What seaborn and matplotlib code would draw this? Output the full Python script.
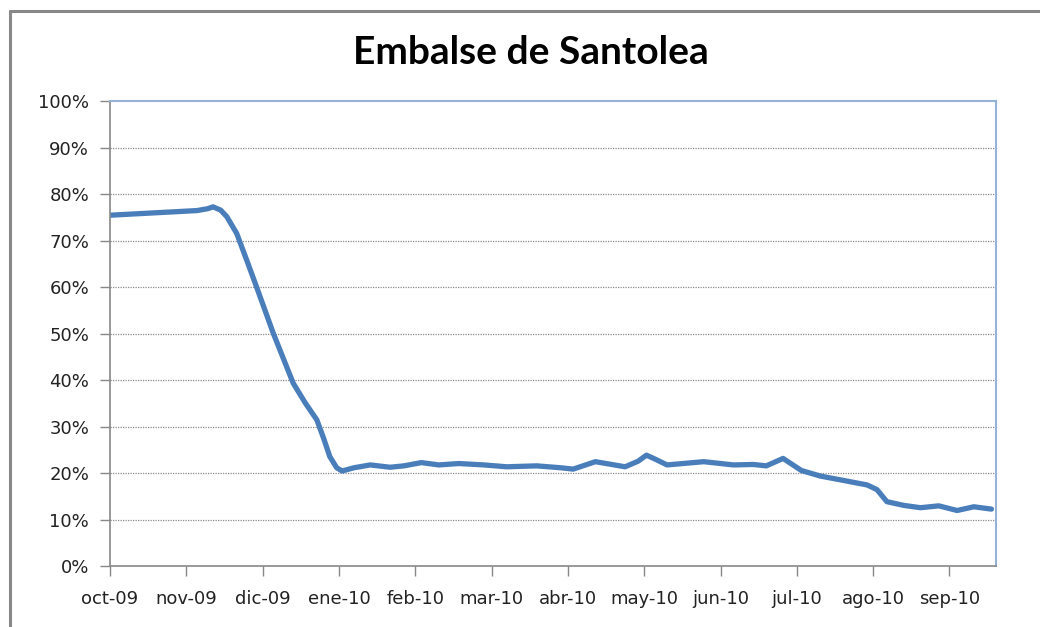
import numpy as np
import pandas as pd
import matplotlib
matplotlib.use("Agg")
import matplotlib.pyplot as plt
from matplotlib.lines import Line2D
import seaborn as sns

# Data: position in months since oct-09, reservoir fill (%)
month_pos = [0.00, 1.14, 1.28, 1.35, 1.45, 1.53, 1.66, 1.79, 1.92, 2.14, 2.40, 2.56,
             2.71, 2.80, 2.88, 2.97, 3.04, 3.20, 3.41, 3.67, 3.85, 4.08, 4.31, 4.57,
             4.90, 5.20, 5.59, 5.90, 6.07, 6.36, 6.75, 6.92, 7.03, 7.15, 7.30, 7.78,
             8.17, 8.43, 8.60, 8.82, 9.06, 9.31, 9.60, 9.92, 10.05, 10.18, 10.40,
             10.62, 10.86, 11.10, 11.32, 11.55]
fill_pct = [75.5, 76.5, 76.9, 77.3, 76.6, 75.2, 71.6, 65.9, 60.1, 50.1, 39.4, 35.1,
            31.5, 27.5, 23.6, 21.2, 20.5, 21.2, 21.8, 21.3, 21.6, 22.3, 21.8, 22.1,
            21.8, 21.4, 21.6, 21.2, 20.9, 22.5, 21.4, 22.6, 23.9, 23.0, 21.8, 22.5,
            21.8, 21.9, 21.6, 23.2, 20.6, 19.4, 18.5, 17.5, 16.5, 13.9, 13.1,
            12.6, 13.0, 12.0, 12.8, 12.3]
month_labels = ["oct-09", "nov-09", "dic-09", "ene-10", "feb-10", "mar-10",
                "abr-10", "may-10", "jun-10", "jul-10", "ago-10", "sep-10"]
y_ticks = [0, 10, 20, 30, 40, 50, 60, 70, 80, 90, 100]

df = pd.DataFrame({"mes": month_pos, "nivel": fill_pct})

sns.set_style("white")
plt.rcParams['font.family'] = ['DejaVu Sans']

fig = plt.figure(figsize=(10.4, 6.27), dpi=100)
ax = fig.add_axes([110/1040, 1 - 566.3/627, (996 - 110)/1040, (566.3 - 101.3)/627])

sns.lineplot(data=df, x="mes", y="nivel", ax=ax, color="#4a7ebb", linewidth=3.8,
             solid_joinstyle="round", solid_capstyle="round")

ax.set_xlim(0, 11.61)
ax.set_ylim(0, 100)
ax.set_xticks(range(len(month_labels)))
ax.set_xticklabels(month_labels, fontsize=13, color="#222222")
ax.set_yticks(y_ticks)
ax.set_yticklabels([f"{v}%" for v in y_ticks], fontsize=13, color="#222222")
ax.set_xlabel("")
ax.set_ylabel("")

for v in y_ticks[1:-1]:
    ax.axhline(v, color="#8a8a8a", linestyle=(0, (1, 1)), linewidth=0.9, zorder=0)

ax.tick_params(axis="both", which="both", direction="out", length=7, width=1,
               color="#888888", left=True, bottom=True)
ax.tick_params(axis="x", pad=10)
ax.tick_params(axis="y", pad=8)

for s in ["left", "bottom"]:
    ax.spines[s].set_color("#888888")
    ax.spines[s].set_linewidth(1.2)
for s in ["top", "right"]:
    ax.spines[s].set_color("#95b3d7")
    ax.spines[s].set_linewidth(1.5)

fig.text(531/1040, 1 - 53/627, "Embalse de Santolea", ha="center", va="center",
         fontsize=28, fontweight="bold", family="Lato", color="#000000")

# Outer chart frame (top and left edges visible)
fig.add_artist(Line2D([10/1040, 10/1040], [0, 1 - 10.5/627], transform=fig.transFigure,
                      color="#888888", linewidth=2.2))
fig.add_artist(Line2D([10/1040, 1], [1 - 10.5/627, 1 - 10.5/627], transform=fig.transFigure,
                      color="#888888", linewidth=2.2))

fig.savefig("out.png", dpi=100, facecolor="white")
